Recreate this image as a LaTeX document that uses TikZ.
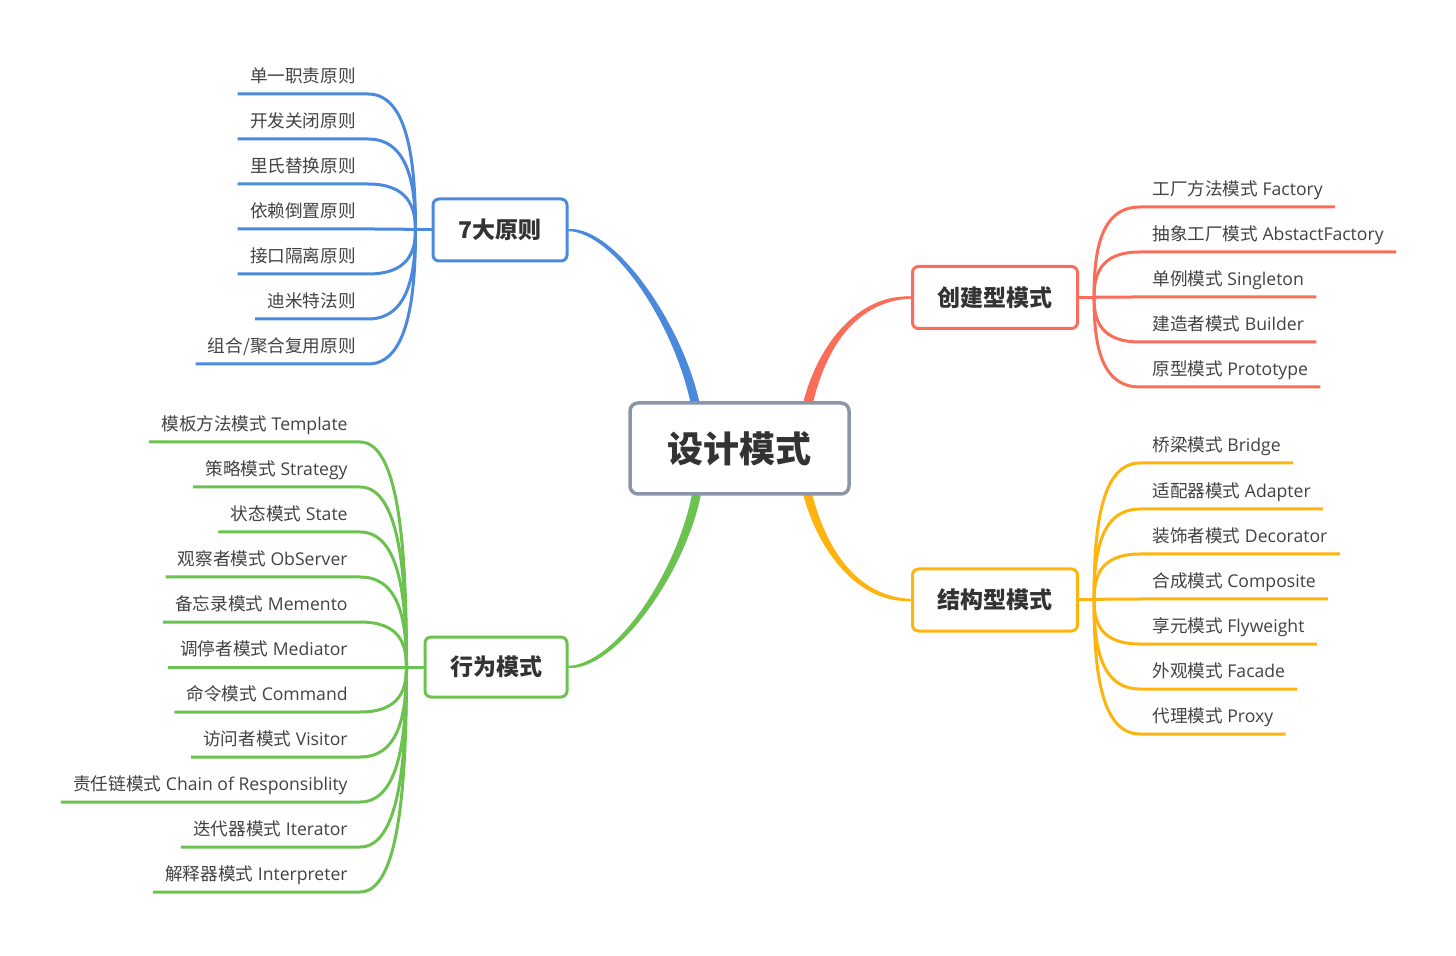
\documentclass[tikz,border=0pt]{standalone}
\usepackage{fontspec}
\setmainfont{Open Sans}
\newfontfamily\cjk{Noto Sans CJK SC}
\usepackage{tikz}
\usetikzlibrary{calc}
\pgfdeclarelayer{bg}
\pgfsetlayers{bg,main}
\definecolor{rootgray}{HTML}{8A96A8}
\definecolor{pblue}{HTML}{4A89DC}
\definecolor{pred}{HTML}{FA6E59}
\definecolor{pyellow}{HTML}{FFB30F}
\definecolor{pgreen}{HTML}{6CC24F}
\definecolor{boxtext}{HTML}{333333}
\definecolor{leaftext}{HTML}{424242}
\tikzset{
  rootbox/.style={draw=rootgray, line width=1.75pt, rounded corners=4pt, fill=white,
    minimum width=109.5pt, minimum height=45.5pt, text=boxtext,
    font=\fontsize{18}{20}\selectfont\cjk\bfseries},
  mainbox/.style={draw=#1, line width=1.5pt, rounded corners=3pt, fill=white,
    minimum height=31pt, text=boxtext,
    font=\fontsize{11.5}{13}\selectfont\cjk\bfseries},
  leaf/.style={inner xsep=6pt, inner ysep=0pt, text height=8pt, text depth=5.5pt,
    text=leaftext, font=\fontsize{8.8}{10}\selectfont},
  leafL/.style={leaf, anchor=south east},
  leafR/.style={leaf, anchor=south west},
  twig/.style={draw=#1, line width=1.5pt},
  bough/.style={draw=#1, line width=1pt},
}

\begin{document}
\begin{tikzpicture}[x=0.5pt, y=-0.5pt]
    \useasboundingbox (0,0) rectangle (1456,956);

    % boxes
    \node[rootbox] (root) at (739.5,448.5) {设计模式};
    \node[mainbox=pblue, minimum width=67pt] (principle) at (500,230) {7大原则};
    \node[mainbox=pred, minimum width=82.5pt] (create) at (995,297.5) {创建型模式};
    \node[mainbox=pyellow, minimum width=82.5pt] (struct) at (995,600) {结构型模式};
    \node[mainbox=pgreen, minimum width=71pt, minimum height=30pt] (behav) at (496,667) {行为模式};

    % thick branches
    \begin{pgfonlayer}{bg}
    \path[fill=white] (0,0) rectangle (1456,956);
    \fill[pblue] ($(root.north)+(-48.5,4)$) .. controls ($(root.north)+(-64,-73)$) and ($(principle.east)+(48,3.5)$) .. ($(principle.east)+(0,1)$)
      -- ($(principle.east)+(0,-1)$) .. controls ($(principle.east)+(48,-3.5)$) and ($(root.north)+(-55,-73)$) .. ($(root.north)+(-39.5,4)$) -- cycle;
    \draw[bough=pblue] ($(root.north)+(-44,4)$) .. controls ($(root.north)+(-59.5,-73)$) and ($(principle.east)+(48,0)$) .. (principle.east);
    \fill[pred] ($(root.north)+(63,4)$) .. controls ($(root.north)+(78,-58)$) and ($(create.west)+(-52,-3.5)$) .. ($(create.west)+(0,-1)$)
      -- ($(create.west)+(0,1)$) .. controls ($(create.west)+(-52,3.5)$) and ($(root.north)+(87,-58)$) .. ($(root.north)+(73,4)$) -- cycle;
    \draw[bough=pred] ($(root.north)+(68,4)$) .. controls ($(root.north)+(82.5,-58)$) and ($(create.west)+(-52,0)$) .. (create.west);
    \fill[pgreen] ($(root.south)+(-47,-4)$) .. controls ($(root.south)+(-62,76)$) and ($(behav.east)+(48,-3.5)$) .. ($(behav.east)+(0,-1)$)
      -- ($(behav.east)+(0,1)$) .. controls ($(behav.east)+(48,3.5)$) and ($(root.south)+(-53,76)$) .. ($(root.south)+(-38,-4)$) -- cycle;
    \draw[bough=pgreen] ($(root.south)+(-42.5,-4)$) .. controls ($(root.south)+(-57.5,76)$) and ($(behav.east)+(48,0)$) .. (behav.east);
    \fill[pyellow] ($(root.south)+(63,-4)$) .. controls ($(root.south)+(78,56)$) and ($(struct.west)+(-52.5,3.5)$) .. ($(struct.west)+(0,1)$)
      -- ($(struct.west)+(0,-1)$) .. controls ($(struct.west)+(-52.5,-3.5)$) and ($(root.south)+(87,56)$) .. ($(root.south)+(72,-4)$) -- cycle;
    \draw[bough=pyellow] ($(root.south)+(67.5,-4)$) .. controls ($(root.south)+(82.5,56)$) and ($(struct.west)+(-52.5,0)$) .. (struct.west);
    \end{pgfonlayer}

    % 7大原则
    \coordinate (pf) at ($(principle.west)+(-16,0)$);
    \draw[twig=pblue] (principle.west) -- (pf);
    \node[leafL] (p1) at (368,94) {\cjk 单一职责原则};
    \node[leafL] (p2) at (368,139) {\cjk 开发关闭原则};
    \node[leafL] (p3) at (368,184) {\cjk 里氏替换原则};
    \node[leafL] (p4) at (368,229) {\cjk 依赖倒置原则};
    \node[leafL] (p5) at (368,274) {\cjk 接口隔离原则};
    \node[leafL] (p6) at (368,319) {\cjk 迪米特法则};
    \node[leafL] (p7) at (368,364) {\cjk 组合/聚合复用原则};
    \draw[twig=pblue] (p1.south west) -- (p1.south east) .. controls ($(p1.south east)+(40,0)$) and ($(pf)!0.5!(pf|-p1.south)$) .. (pf);
    \draw[twig=pblue] (p2.south west) -- (p2.south east) .. controls ($(p2.south east)+(40,0)$) and ($(pf)!0.5!(pf|-p2.south)$) .. (pf);
    \draw[twig=pblue] (p3.south west) -- (p3.south east) .. controls ($(p3.south east)+(40,0)$) and ($(pf)!0.5!(pf|-p3.south)$) .. (pf);
    \draw[twig=pblue] (p4.south west) -- (p4.south east) .. controls ($(p4.south east)+(40,0)$) and ($(pf)!0.5!(pf|-p4.south)$) .. (pf);
    \draw[twig=pblue] (p5.south west) -- (p5.south east) .. controls ($(p5.south east)+(40,0)$) and ($(pf)!0.5!(pf|-p5.south)$) .. (pf);
    \draw[twig=pblue] (p6.south west) -- (p6.south east) .. controls ($(p6.south east)+(40,0)$) and ($(pf)!0.5!(pf|-p6.south)$) .. (pf);
    \draw[twig=pblue] (p7.south west) -- (p7.south east) .. controls ($(p7.south east)+(40,0)$) and ($(pf)!0.5!(pf|-p7.south)$) .. (pf);

    % 创建型模式
    \coordinate (cf) at ($(create.east)+(15,0)$);
    \draw[twig=pred] (create.east) -- (cf);
    \node[leafR] (c1) at (1140,207) {{\cjk 工厂方法模式} Factory};
    \node[leafR] (c2) at (1140,252) {{\cjk 抽象工厂模式} AbstactFactory};
    \node[leafR] (c3) at (1140,297) {{\cjk 单例模式} Singleton};
    \node[leafR] (c4) at (1140,342) {{\cjk 建造者模式} Builder};
    \node[leafR] (c5) at (1140,387) {{\cjk 原型模式} Prototype};
    \draw[twig=pred] (cf) .. controls ($(cf)!0.5!(cf|-c1.south)$) and ($(c1.south west)+(-40,0)$) .. (c1.south west) -- (c1.south east);
    \draw[twig=pred] (cf) .. controls ($(cf)!0.5!(cf|-c2.south)$) and ($(c2.south west)+(-40,0)$) .. (c2.south west) -- (c2.south east);
    \draw[twig=pred] (cf) .. controls ($(cf)!0.5!(cf|-c3.south)$) and ($(c3.south west)+(-40,0)$) .. (c3.south west) -- (c3.south east);
    \draw[twig=pred] (cf) .. controls ($(cf)!0.5!(cf|-c4.south)$) and ($(c4.south west)+(-40,0)$) .. (c4.south west) -- (c4.south east);
    \draw[twig=pred] (cf) .. controls ($(cf)!0.5!(cf|-c5.south)$) and ($(c5.south west)+(-40,0)$) .. (c5.south west) -- (c5.south east);

    % 结构型模式
    \coordinate (sf) at ($(struct.east)+(15,0)$);
    \draw[twig=pyellow] (struct.east) -- (sf);
    \node[leafR] (s1) at (1140,463) {{\cjk 桥梁模式} Bridge};
    \node[leafR] (s2) at (1140,509) {{\cjk 适配器模式} Adapter};
    \node[leafR] (s3) at (1140,554) {{\cjk 装饰者模式} Decorator};
    \node[leafR] (s4) at (1140,599) {{\cjk 合成模式} Composite};
    \node[leafR] (s5) at (1140,644) {{\cjk 享元模式} Flyweight};
    \node[leafR] (s6) at (1140,689) {{\cjk 外观模式} Facade};
    \node[leafR] (s7) at (1140,734) {{\cjk 代理模式} Proxy};
    \draw[twig=pyellow] (sf) .. controls ($(sf)!0.5!(sf|-s1.south)$) and ($(s1.south west)+(-40,0)$) .. (s1.south west) -- (s1.south east);
    \draw[twig=pyellow] (sf) .. controls ($(sf)!0.5!(sf|-s2.south)$) and ($(s2.south west)+(-40,0)$) .. (s2.south west) -- (s2.south east);
    \draw[twig=pyellow] (sf) .. controls ($(sf)!0.5!(sf|-s3.south)$) and ($(s3.south west)+(-40,0)$) .. (s3.south west) -- (s3.south east);
    \draw[twig=pyellow] (sf) .. controls ($(sf)!0.5!(sf|-s4.south)$) and ($(s4.south west)+(-40,0)$) .. (s4.south west) -- (s4.south east);
    \draw[twig=pyellow] (sf) .. controls ($(sf)!0.5!(sf|-s5.south)$) and ($(s5.south west)+(-40,0)$) .. (s5.south west) -- (s5.south east);
    \draw[twig=pyellow] (sf) .. controls ($(sf)!0.5!(sf|-s6.south)$) and ($(s6.south west)+(-40,0)$) .. (s6.south west) -- (s6.south east);
    \draw[twig=pyellow] (sf) .. controls ($(sf)!0.5!(sf|-s7.south)$) and ($(s7.south west)+(-40,0)$) .. (s7.south west) -- (s7.south east);

    % 行为模式
    \coordinate (bf) at ($(behav.west)+(-17,0)$);
    \draw[twig=pgreen] (behav.west) -- (bf);
    \node[leafL] (b1) at (360,442) {{\cjk 模板方法模式} Template};
    \node[leafL] (b2) at (360,487) {{\cjk 策略模式} Strategy};
    \node[leafL] (b3) at (360,532) {{\cjk 状态模式} State};
    \node[leafL] (b4) at (360,577) {{\cjk 观察者模式} ObServer};
    \node[leafL] (b5) at (360,622) {{\cjk 备忘录模式} Memento};
    \node[leafL] (b6) at (360,667) {{\cjk 调停者模式} Mediator};
    \node[leafL] (b7) at (360,712) {{\cjk 命令模式} Command};
    \node[leafL] (b8) at (360,757) {{\cjk 访问者模式} Visitor};
    \node[leafL] (b9) at (360,802) {{\cjk 责任链模式} Chain of Responsiblity};
    \node[leafL] (b10) at (360,847) {{\cjk 迭代器模式} Iterator};
    \node[leafL] (b11) at (360,892) {{\cjk 解释器模式} Interpreter};
    \draw[twig=pgreen] (b1.south west) -- (b1.south east) .. controls ($(b1.south east)+(40,0)$) and ($(bf)!0.5!(bf|-b1.south)$) .. (bf);
    \draw[twig=pgreen] (b2.south west) -- (b2.south east) .. controls ($(b2.south east)+(40,0)$) and ($(bf)!0.5!(bf|-b2.south)$) .. (bf);
    \draw[twig=pgreen] (b3.south west) -- (b3.south east) .. controls ($(b3.south east)+(40,0)$) and ($(bf)!0.5!(bf|-b3.south)$) .. (bf);
    \draw[twig=pgreen] (b4.south west) -- (b4.south east) .. controls ($(b4.south east)+(40,0)$) and ($(bf)!0.5!(bf|-b4.south)$) .. (bf);
    \draw[twig=pgreen] (b5.south west) -- (b5.south east) .. controls ($(b5.south east)+(40,0)$) and ($(bf)!0.5!(bf|-b5.south)$) .. (bf);
    \draw[twig=pgreen] (b6.south west) -- (b6.south east) .. controls ($(b6.south east)+(40,0)$) and ($(bf)!0.5!(bf|-b6.south)$) .. (bf);
    \draw[twig=pgreen] (b7.south west) -- (b7.south east) .. controls ($(b7.south east)+(40,0)$) and ($(bf)!0.5!(bf|-b7.south)$) .. (bf);
    \draw[twig=pgreen] (b8.south west) -- (b8.south east) .. controls ($(b8.south east)+(40,0)$) and ($(bf)!0.5!(bf|-b8.south)$) .. (bf);
    \draw[twig=pgreen] (b9.south west) -- (b9.south east) .. controls ($(b9.south east)+(40,0)$) and ($(bf)!0.5!(bf|-b9.south)$) .. (bf);
    \draw[twig=pgreen] (b10.south west) -- (b10.south east) .. controls ($(b10.south east)+(40,0)$) and ($(bf)!0.5!(bf|-b10.south)$) .. (bf);
    \draw[twig=pgreen] (b11.south west) -- (b11.south east) .. controls ($(b11.south east)+(40,0)$) and ($(bf)!0.5!(bf|-b11.south)$) .. (bf);
\end{tikzpicture}
\end{document}
